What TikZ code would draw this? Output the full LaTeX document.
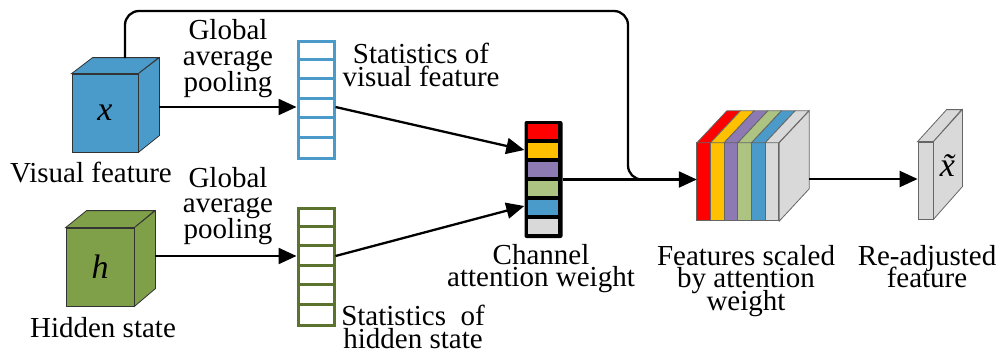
\documentclass[tikz,border=0pt]{standalone}
\usepackage{fontspec}
\setmainfont{Liberation Serif}
\usetikzlibrary{arrows.meta,calc}
\definecolor{featblue}{HTML}{4A9BCA}
\definecolor{hidgreen}{HTML}{7F9F49}
\definecolor{hidedge}{HTML}{5C7330}
\definecolor{wred}{HTML}{FF0000}
\definecolor{wyellow}{HTML}{FFC000}
\definecolor{wpurple}{HTML}{8E7AB2}
\definecolor{wgreen}{HTML}{ADC382}
\definecolor{wblue}{HTML}{4A9BCA}
\definecolor{wgray}{HTML}{D9D9D9}
% keep the given line spacing even where descenders and ascenders meet
\setlength{\lineskiplimit}{-50pt}
\begin{document}
\begin{tikzpicture}[x=1pt,y=-1pt,
  lbl/.style={font={\fontsize{29}{22.5}\selectfont}, align=center, inner sep=0pt, anchor=north},
  gap/.style={lbl, font={\fontsize{29}{26}\selectfont}},
  flow/.style={line width=2.3pt, -{Triangle[length=18pt,width=16pt]}},
  face/.style={draw=black!80, line width=0.8pt},
  slab/.style={draw=black!60, line width=0.8pt},
  statcol/.style={line width=3pt, minimum width=36pt, minimum height=117pt, inner sep=0pt},
  sym/.style={font={\fontsize{34}{34}\selectfont\itshape}, inner sep=0pt}]
\useasboundingbox (0,0) rectangle (1000,354);

% visual feature cube
\node[face, fill=featblue, minimum width=66pt, minimum height=78pt, inner sep=0pt, sym] (vf) at (105,113) {x};
\draw[face, fill=featblue] (vf.north west) -- ++(21,-16) -- ++(66,0) -- (vf.north east) -- cycle;
\draw[face, fill=featblue] (vf.north east) -- ++(21,-16) -- ++(0,78) -- (vf.south east) -- cycle;
\coordinate (vfo) at (159,107);
\coordinate (skip) at (125,58);
\node[lbl] (vflbl) at (91,162) {Visual feature};

% hidden state cube
\node[face, fill=hidgreen, minimum width=68pt, minimum height=78pt, inner sep=0pt, sym] (hs) at (100,267) {h};
\draw[face, fill=hidgreen] (hs.north west) -- ++(21,-17) -- ++(68,0) -- (hs.north east) -- cycle;
\draw[face, fill=hidgreen] (hs.north east) -- ++(21,-17) -- ++(0,78) -- (hs.south east) -- cycle;
\coordinate (hso) at (155,256);
\node[lbl] (hslbl) at (103,317) {Hidden state};

% pooled statistics
\node[statcol, draw=featblue] (sv) at (316,99.5) {};
\foreach \i in {1,...,5}
  \draw[featblue, line width=3pt] ($(sv.north west)+(0,\i*19.5)$) -- ++(36,0);
\node[statcol, draw=hidedge] (sh) at (316,266.5) {};
\foreach \i in {1,...,5}
  \draw[hidedge, line width=3pt] ($(sh.north west)+(0,\i*19.5)$) -- ++(36,0);

\node[gap] (gap1) at (228,19) {Global\\average\\pooling};
\node[gap, font={\fontsize{29}{25.5}\selectfont}] (gap2) at (228,167) {Global\\average\\pooling};
\node[lbl, font={\fontsize{29}{23}\selectfont}] (svlbl) at (421,43) {Statistics of\\visual feature};
\node[lbl, font={\fontsize{29}{23}\selectfont}] (shlbl) at (413,305) {Statistics\ \ of\\hidden state};

\draw[flow] (vfo) -- (sv.west |- vfo);
\draw[flow] (hso) -- (sh.west |- hso);

% channel attention weight
\node[fill=black, rounded corners=2pt, minimum width=38pt, minimum height=117pt, inner sep=0pt] (cw) at (543.5,179.5) {};
\foreach \c [count=\i from 0] in {wred,wyellow,wpurple,wgreen,wblue,wgray}
  \fill[\c] ($(cw.north west)+(4,3+\i*19.1)$) rectangle ++(30,14.8);
\node[lbl] (cwlbl) at (541,244) {Channel\\attention weight};

\draw[flow] (sv.east |- vfo) -- ($(cw.west)+(0,-29.5)$);
\draw[flow] (sh.east |- hso) -- ($(cw.west)+(0,26.5)$);

% scaled features
\node[minimum width=82pt, minimum height=78pt, inner sep=0pt] (fs) at (738,182) {};
\foreach \c [count=\i from 0] in {wred,wyellow,wpurple,wgreen,wblue,wgray} {
  \draw[slab, fill=\c] ($(fs.north west)+(\i*13.667,0)$) rectangle ++(13.667,78);
  \draw[slab, fill=\c] ($(fs.north west)+(\i*13.667,0)$) -- ++(30,-32) -- ++(13.667,0) -- ++(-30,32) -- cycle;
}
\draw[slab, fill=wgray] (fs.north east) -- ++(30,-32) -- ++(0,78) -- (fs.south east) -- cycle;
\coordinate (fso) at (809,179);
\node[lbl, font={\fontsize{29}{22.5}\selectfont}] (fslbl) at (746,245) {Features scaled\\by attention\\weight};

\draw[flow] (cw.east) -- (cw.east -| fs.west);
\coordinate (turn) at (628,11);
\coordinate (merge) at (645,179.5);
\draw[line width=2.3pt, rounded corners=14pt] (skip) |- (turn) |- (merge);

% re-adjusted feature
\node[slab, fill=wgray, minimum width=15pt, minimum height=77pt, inner sep=0pt] (ra) at (925.5,180.5) {};
\draw[slab, fill=wgray] (ra.north west) -- ++(29,-32) -- ++(15,0) -- (ra.north east) -- cycle;
\draw[slab, fill=wgray] (ra.north east) -- ++(29,-32) -- ++(0,77) -- (ra.south east) -- cycle;
\node[sym] (xt) at ($(ra.east)+(14,-15)$) {x^^^^0303};
\node[lbl] (ralbl) at (927,245) {Re-adjusted\\feature};

\draw[flow] (fso) -- (fso -| ra.west);
\end{tikzpicture}
\end{document}
